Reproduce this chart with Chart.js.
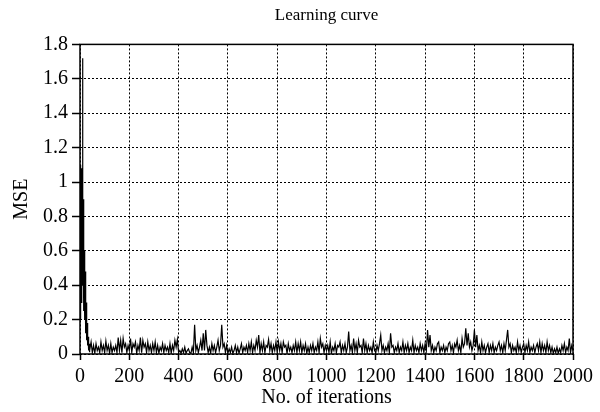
<!DOCTYPE html>
<html>
<head>
<meta charset="utf-8">
<script src="https://cdn.jsdelivr.net/npm/chart.js@4/dist/chart.umd.min.js"></script>
<style>
  html, body { margin: 0; padding: 0; background: #fff; }
  #wrap { width: 600px; height: 412px; }
</style>
</head>
<body>
<div id="wrap"><canvas id="curve"></canvas></div>
<script>
// MSE for iterations 0..39 (every iteration)
const earlyMse = [
    1.05, 0.2, 1.1, 0.5, 0.95, 0.3, 1.08, 0.6, 1.0, 0.4,
    1.12, 1.72, 0.7, 0.9, 0.35, 0.8, 0.25, 0.6, 0.3, 0.55,
    0.2, 0.4, 0.15, 0.48, 0.12, 0.3, 0.1, 0.25, 0.08, 0.18,
    0.06, 0.14, 0.05, 0.1, 0.04, 0.08, 0.02, 0.06, 0.01, 0.05
];

// MSE for iterations 40..2000, every 5 iterations
const laterMse = [
    0.02, 0.07, 0.008, 0.05, 0.004, 0.06, 0.02, 0.04, 0.008, 0.07, 0.02, 0.05,
    0.008, 0.075, 0.02, 0.05, 0.004, 0.06, 0.008, 0.04, 0.02, 0.05, 0.008, 0.095, 0.02, 0.08, 0.008, 0.09, 0.04, 0.06, 0.008, 0.05,
    0.02, 0.09, 0.008, 0.06, 0.04, 0.07, 0.004, 0.05, 0.02, 0.095, 0.008, 0.08, 0.04, 0.06, 0.008, 0.07, 0.02, 0.05, 0.008, 0.06,
    0.02, 0.07, 0.008, 0.05, 0.004, 0.04, 0.02, 0.06, 0.008, 0.05, 0.02, 0.04, 0.008, 0.06, 0.004, 0.05, 0.02, 0.08, 0.04, 0.085,
    0.008, 0.02, 0.004, 0.03, 0.008, 0.04, 0.004, 0.02, 0.03, 0.008, 0.004, 0.04, 0.008, 0.17, 0.02, 0.05, 0.008, 0.04, 0.08, 0.02,
    0.12, 0.02, 0.14, 0.05, 0.008, 0.04, 0.004, 0.06, 0.02, 0.05, 0.008, 0.04, 0.08, 0.02, 0.05, 0.17, 0.04, 0.06, 0.008, 0.05,
    0.004, 0.03, 0.008, 0.04, 0.004, 0.02, 0.05, 0.008, 0.04, 0.004, 0.03, 0.06, 0.008, 0.04, 0.02, 0.05, 0.008, 0.06, 0.02, 0.07,
    0.008, 0.05, 0.02, 0.08, 0.04, 0.11, 0.008, 0.06, 0.02, 0.07, 0.008, 0.05, 0.04, 0.085, 0.02, 0.06, 0.008, 0.05, 0.02, 0.07,
    0.008, 0.07, 0.02, 0.06, 0.008, 0.07, 0.04, 0.05, 0.004, 0.06, 0.02, 0.04, 0.008, 0.05, 0.02, 0.07, 0.008, 0.06, 0.02, 0.07,
    0.008, 0.05, 0.02, 0.06, 0.004, 0.04, 0.008, 0.05, 0.02, 0.06, 0.008, 0.04, 0.02, 0.07, 0.008, 0.09, 0.04, 0.06, 0.008, 0.05,
    0.02, 0.05, 0.008, 0.07, 0.004, 0.04, 0.02, 0.06, 0.008, 0.05, 0.04, 0.07, 0.008, 0.05, 0.02, 0.06, 0.008, 0.04, 0.13, 0.02,
    0.05, 0.008, 0.09, 0.02, 0.06, 0.008, 0.08, 0.04, 0.05, 0.008, 0.09, 0.02, 0.06, 0.008, 0.05, 0.02, 0.04, 0.008, 0.07, 0.02,
    0.008, 0.05, 0.02, 0.06, 0.11, 0.02, 0.05, 0.008, 0.04, 0.02, 0.06, 0.008, 0.12, 0.04, 0.05, 0.008, 0.04, 0.02, 0.06, 0.008,
    0.04, 0.02, 0.07, 0.008, 0.05, 0.02, 0.06, 0.008, 0.04, 0.02, 0.08, 0.008, 0.05, 0.02, 0.04, 0.008, 0.06, 0.02, 0.05, 0.008,
    0.06, 0.02, 0.14, 0.04, 0.11, 0.02, 0.05, 0.008, 0.04, 0.02, 0.06, 0.07, 0.008, 0.04, 0.02, 0.05, 0.008, 0.04, 0.02, 0.06,
    0.07, 0.02, 0.05, 0.008, 0.06, 0.04, 0.08, 0.02, 0.05, 0.008, 0.09, 0.04, 0.06, 0.15, 0.05, 0.12, 0.04, 0.07, 0.02, 0.05,
    0.14, 0.04, 0.11, 0.02, 0.05, 0.008, 0.07, 0.02, 0.05, 0.008, 0.04, 0.06, 0.008, 0.05, 0.02, 0.06, 0.008, 0.04, 0.02, 0.05,
    0.07, 0.02, 0.05, 0.008, 0.06, 0.02, 0.08, 0.14, 0.04, 0.06, 0.008, 0.05, 0.02, 0.04, 0.008, 0.07, 0.02, 0.05, 0.008, 0.04,
    0.06, 0.008, 0.05, 0.02, 0.07, 0.008, 0.04, 0.02, 0.05, 0.008, 0.04, 0.06, 0.02, 0.07, 0.008, 0.06, 0.02, 0.05, 0.008, 0.07,
    0.02, 0.05, 0.008, 0.04, 0.004, 0.03, 0.008, 0.04, 0.004, 0.03, 0.008, 0.05, 0.02, 0.06, 0.008, 0.04, 0.02, 0.09, 0.008, 0.05,
    0.02
];

const points = [];
earlyMse.forEach((v, i) => points.push({ x: i, y: v }));
laterMse.forEach((v, i) => points.push({ x: 40 + i * 5, y: v }));

const serif = 'Liberation Serif';

// solid frame round the plot area
const frame = {
    id: 'frame',
    afterDraw(chart) {
        const { ctx, chartArea: a } = chart;
        ctx.save();
        ctx.strokeStyle = '#000';
        ctx.lineWidth = 1.5;
        ctx.strokeRect(a.left, a.top, a.right - a.left, a.bottom - a.top);
        ctx.restore();
    }
};

new Chart(document.getElementById('curve'), {
    type: 'line',
    data: {
        datasets: [{
            data: points,
            borderColor: '#000',
            borderWidth: 1.2,
            pointRadius: 0,
            tension: 0
        }]
    },
    options: {
        responsive: true,
        maintainAspectRatio: false,
        animation: false,
        layout: { padding: { left: 0, right: 27, top: 0, bottom: 0 } },
        plugins: {
            legend: { display: false },
            tooltip: { enabled: false },
            title: {
                display: true,
                text: 'Learning curve',
                fullSize: false,
                color: '#000',
                font: { family: serif, size: 17, weight: 'normal', lineHeight: 1.2 },
                padding: { top: 5, bottom: 19 }
            }
        },
        scales: {
            x: {
                type: 'linear',
                min: 0,
                max: 2000,
                ticks: {
                    stepSize: 200,
                    autoSkip: false,
                    color: '#000',
                    font: { family: serif, size: 20 },
                    padding: 5,
                    maxRotation: 0,
                    callback: v => String(v)
                },
                grid: {
                    color: '#000',
                    lineWidth: 1,
                    tickBorderDash: [],
                    tickLength: 6,
                    tickColor: '#000',
                    tickWidth: 1.5
                },
                border: { display: false, dash: [2, 2] },
                title: {
                    display: true,
                    text: 'No. of iterations',
                    color: '#000',
                    font: { family: serif, size: 20, lineHeight: 1.2 },
                    padding: { top: 0, bottom: 2 }
                },
                afterFit: s => { s.height = 58; }
            },
            y: {
                min: 0,
                max: 1.8,
                ticks: {
                    stepSize: 0.2,
                    color: '#000',
                    font: { family: serif, size: 20 },
                    padding: 4,
                    callback: v => String(+v.toFixed(1))
                },
                grid: {
                    color: '#000',
                    lineWidth: 1,
                    tickBorderDash: [],
                    tickLength: 8,
                    tickColor: '#000',
                    tickWidth: 1.5
                },
                border: { display: false, dash: [2, 2] },
                title: {
                    display: true,
                    text: 'MSE',
                    color: '#000',
                    font: { family: serif, size: 20, lineHeight: 1.2 },
                    padding: { top: 10, bottom: 0 }
                },
                afterFit: s => { s.width = 80; }
            }
        }
    },
    plugins: [frame]
});
</script>
</body>
</html>
